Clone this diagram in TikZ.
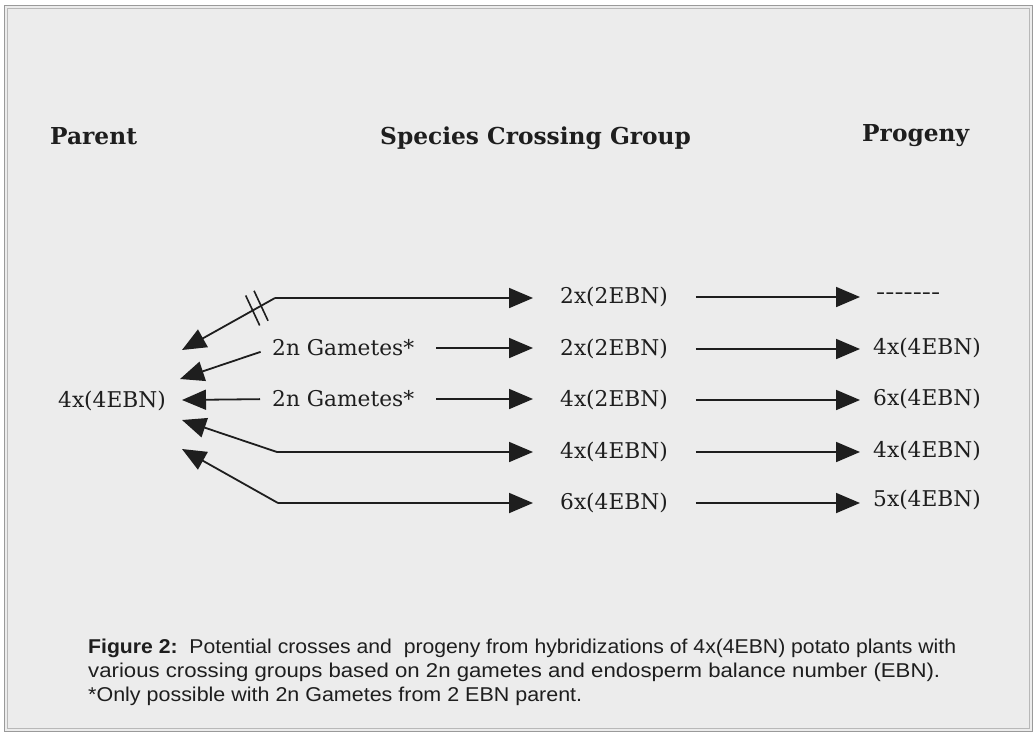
\documentclass[tikz,border=0pt]{standalone}
\usepackage{fontspec}
\setmainfont{DejaVu Serif}
\newfontfamily\capfont{Liberation Sans}
\usepackage{graphicx}
\usetikzlibrary{arrows.meta,calc}
\definecolor{bgc}{HTML}{ECECEC}
\definecolor{ink}{HTML}{1E1E1E}
\definecolor{framec}{HTML}{9A9A9A}
\tikzset{
  hdr/.style={inner sep=0pt, anchor=base west, text=ink, font=\fontsize{23.3}{27}\selectfont\bfseries},
  lbl/.style={inner sep=0pt, anchor=west, text=ink, font=\fontsize{21.7}{25}\selectfont},
  captxt/.style={inner sep=0pt, anchor=base west, text=ink, font=\capfont\fontsize{20}{24}\selectfont},
  arr/.style={draw=ink, line width=1.8pt, -{Triangle[length=24pt,width=20pt]}},
  slashline/.style={draw=ink, line width=1.6pt},
}
\begin{document}
\begin{tikzpicture}[x=1pt,y=-1pt]
\useasboundingbox (0,0) rectangle (1035,734);
\fill[white] (0,0) rectangle (1035,734);
\fill[bgc] (4,5) rectangle (1032,731);
\draw[framec, line width=0.8pt] (4,5) rectangle (1032,731);
\draw[framec!70, line width=0.6pt] (7,8) rectangle (1029,728);

% headers
\node[hdr] (hp) at (50,144) {Parent};
\node[hdr] (hs) at (380,144) {Species Crossing Group};
\node[hdr] (hg) at (862,141) {Progeny};

% parent
\node[lbl] (p) at (58,401) {4x(4EBN)};

% gametes
\node[lbl] (g2) at (272,348) {2n Gametes*};
\node[lbl] (g3) at (272,399) {2n Gametes*};

% middle column
\node[lbl] (m1) at (560,297) {2x(2EBN)};
\node[lbl] (m2) at (560,349) {2x(2EBN)};
\node[lbl] (m3) at (560,400) {4x(2EBN)};
\node[lbl] (m4) at (560,452) {4x(4EBN)};
\node[lbl] (m5) at (560,503) {6x(4EBN)};

% progeny column
\node[lbl] (r1) at (876,296) {\resizebox{64pt}{\height}{-{}-{}-{}-{}-{}-{}-}};
\node[lbl] (r2) at (873,348) {4x(4EBN)};
\node[lbl] (r3) at (873,399) {6x(4EBN)};
\node[lbl] (r4) at (873,451) {4x(4EBN)};
\node[lbl] (r5) at (873,500) {5x(4EBN)};

% tips at parent and bends
\coordinate (t1) at (182,350);
\coordinate (t2) at (180,379);
\coordinate (t3) at (182,400);
\coordinate (t4) at (182,420);
\coordinate (t5) at (182,449);
\coordinate (b1) at (275,298);
\coordinate (b4) at (277,452);
\coordinate (b5) at (278,503);

% left connectors
\draw[arr] (b1) -- (t1);
\draw[arr, shorten <=12pt] (g2.west) -- (t2);
\draw[arr, shorten <=12pt] (g3.west) -- (t3);
\draw[arr] (b4) -- (t4);
\draw[arr] (b5) -- (t5);

% double slash (not possible)
\draw[slashline] ($(b1)!0.15!(t1)+(-7,-15)$) -- ++(14,30);
\draw[slashline] ($(b1)!0.24!(t1)+(-7,-15)$) -- ++(14,30);

% to species crossing groups
\draw[arr, shorten >=27pt] (b1) -- (b1 -| m1.west);
\draw[arr, shorten <=22pt, shorten >=27pt] (g2.east) -- (g2.east -| m2.west);
\draw[arr, shorten <=22pt, shorten >=27pt] (g3.east) -- (g3.east -| m3.west);
\draw[arr, shorten >=27pt] (b4) -- (b4 -| m4.west);
\draw[arr, shorten >=27pt] (b5) -- (b5 -| m5.west);

% to progeny
\draw[arr, shorten <=28pt, shorten >=13pt] (m1.east) -- (m1.east -| r2.west);
\draw[arr, shorten <=28pt, shorten >=13pt] (m2.east) -- (m2.east -| r2.west);
\draw[arr, shorten <=28pt, shorten >=13pt] (m3.east) -- (m3.east -| r3.west);
\draw[arr, shorten <=28pt, shorten >=13pt] (m4.east) -- (m4.east -| r4.west);
\draw[arr, shorten <=28pt, shorten >=13pt] (m5.east) -- (m5.east -| r5.west);

% caption
\node[captxt] (c1) at (88,653) {\resizebox{868pt}{\height}{\textbf{Figure 2:}\ \ Potential crosses and\ \ progeny from hybridizations of 4x(4EBN) potato plants with}};
\node[captxt] (c2) at (88,677) {\resizebox{852pt}{\height}{various crossing groups based on 2n gametes and endosperm balance number (EBN).}};
\node[captxt] (c3) at (88,701) {\resizebox{494pt}{\height}{*Only possible with 2n Gametes from 2 EBN parent.}};
\end{tikzpicture}
\end{document}
